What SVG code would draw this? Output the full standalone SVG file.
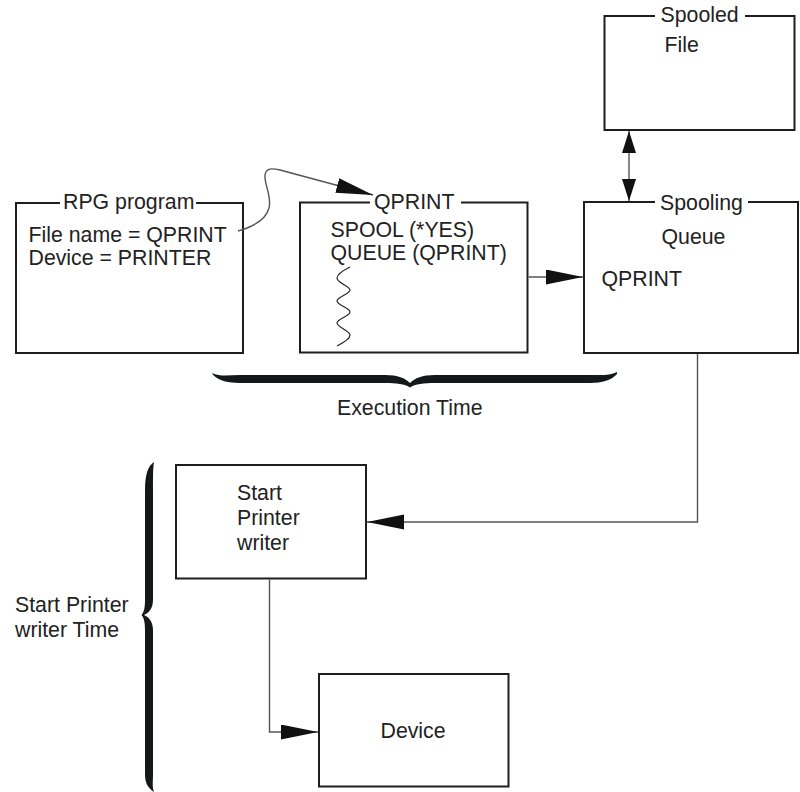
<svg xmlns="http://www.w3.org/2000/svg" width="800" height="792" viewBox="0 0 800 792">
<style>
.box{fill:none;stroke:#1e1e1e;stroke-width:2}
.t{font-family:"Liberation Sans",Arial,sans-serif;font-size:21.3px;fill:#222}
.c{fill:none;stroke:#555;stroke-width:1.4}
.br{fill:#141818;stroke:none}
</style>
<defs>
<marker id="ah" markerUnits="userSpaceOnUse" markerWidth="38" markerHeight="16" refX="37" refY="7.5" orient="auto">
<path d="M0,0 L37,7.5 L0,15 z" fill="#111"/>
</marker>
<marker id="ah2" markerUnits="userSpaceOnUse" markerWidth="23" markerHeight="15" refX="22" refY="7" orient="auto-start-reverse">
<path d="M0,0 L22,7 L0,14 z" fill="#111"/>
</marker>
</defs>
<rect width="800" height="792" fill="#fff"/>
<g id="rpg-program">
<path class="box" d="M60,203 L16,203 L16,353 L243,353 L243,203 L196,203"/>
<text class="t" x="63" y="209">RPG program</text>
<text class="t" x="28.5" y="241.5">File name = QPRINT</text>
<text class="t" x="28.5" y="265">Device = PRINTER</text>
</g>
<g id="qprint-file">
<path class="box" d="M370,202.5 L300,202.5 L300,352.5 L527.5,352.5 L527.5,202.5 L461,202.5"/>
<text class="t" x="374" y="209">QPRINT</text>
<text class="t" x="330.5" y="236.5">SPOOL (*YES)</text>
<text class="t" x="330.5" y="260">QUEUE (QPRINT)</text>
<path fill="none" stroke="#222" stroke-width="1.2" d="M350,267 C344,270 337,274 337,278 C337,283 350,286 350,290 C350,294 337,297 337,301 C337,305 350,308 350,312 C350,316 337,319 337,323 C337,327 350,331 350,335 C350,339 343,343 337,346"/>
</g>
<g id="spooling-queue">
<path class="box" d="M655,202 L584,202 L584,353 L798,353 L798,202 L748,202"/>
<text class="t" x="660" y="210">Spooling</text>
<text class="t" x="661.5" y="244">Queue</text>
<text class="t" x="601.5" y="285.5">QPRINT</text>
</g>
<g id="spooled-file">
<path class="box" d="M655,16 L604.5,16 L604.5,130 L794.5,130 L794.5,16 L745,16"/>
<text class="t" x="660.5" y="21.5">Spooled</text>
<text class="t" x="664.5" y="52">File</text>
</g>
<g id="start-printer-writer">
<rect class="box" x="176" y="465" width="190" height="113.5"/>
<text class="t" x="237" y="500">Start</text>
<text class="t" x="237" y="525">Printer</text>
<text class="t" x="237" y="549.5">writer</text>
</g>
<g id="device">
<rect class="box" x="319" y="674" width="189.5" height="112.5"/>
<text class="t" x="380.5" y="738">Device</text>
</g>
<g id="execution-time">
<path class="br" d="M212,373 C220,377 230,375 240,375 L385,375 C398,375 405,378 410,383 C415,378 422,375 435,375 L590,375 C600,375 610,376 617,372 L617,374 C612,380 602,383 590,383 L435,383 C424,383 415,384 410,387.5 C405,384 396,383 385,383 L240,383 C225,383 215,379 212,373 Z"/>
<text class="t" x="337" y="415">Execution Time</text>
</g>
<g id="start-printer-writer-time">
<path class="br" d="M154,462 C148,466 145,474 145,490 L145,600 C145,608 144,612 141.5,615 C144,618 145,622 145,630 L145,775 C145,783 148,788 154,792 C152,786 153,782 153,775 L153,630 C153,622 149,617 144,615 C149,613 153,608 153,600 L153,490 C153,476 153,468 154,462 Z"/>
<text class="t" x="15" y="612">Start Printer</text>
<text class="t" x="15" y="637">writer Time</text>
</g>
<g id="connectors">
<path class="c" d="M238,231 C252,227 266,220 269,208 C272,196 264,184 265,175 C266,168 272,168 280,170 L373,195" marker-end="url(#ah)"/>
<path class="c" d="M528.5,277 L583,277" marker-end="url(#ah)"/>
<path class="c" d="M629,131 L629,201" marker-start="url(#ah2)" marker-end="url(#ah2)"/>
<path class="c" d="M697.5,354 L697.5,522 L367,522" marker-end="url(#ah)"/>
<path class="c" d="M269.5,579.5 L269.5,732 L318,732" marker-end="url(#ah)"/>
</g>
</svg>
